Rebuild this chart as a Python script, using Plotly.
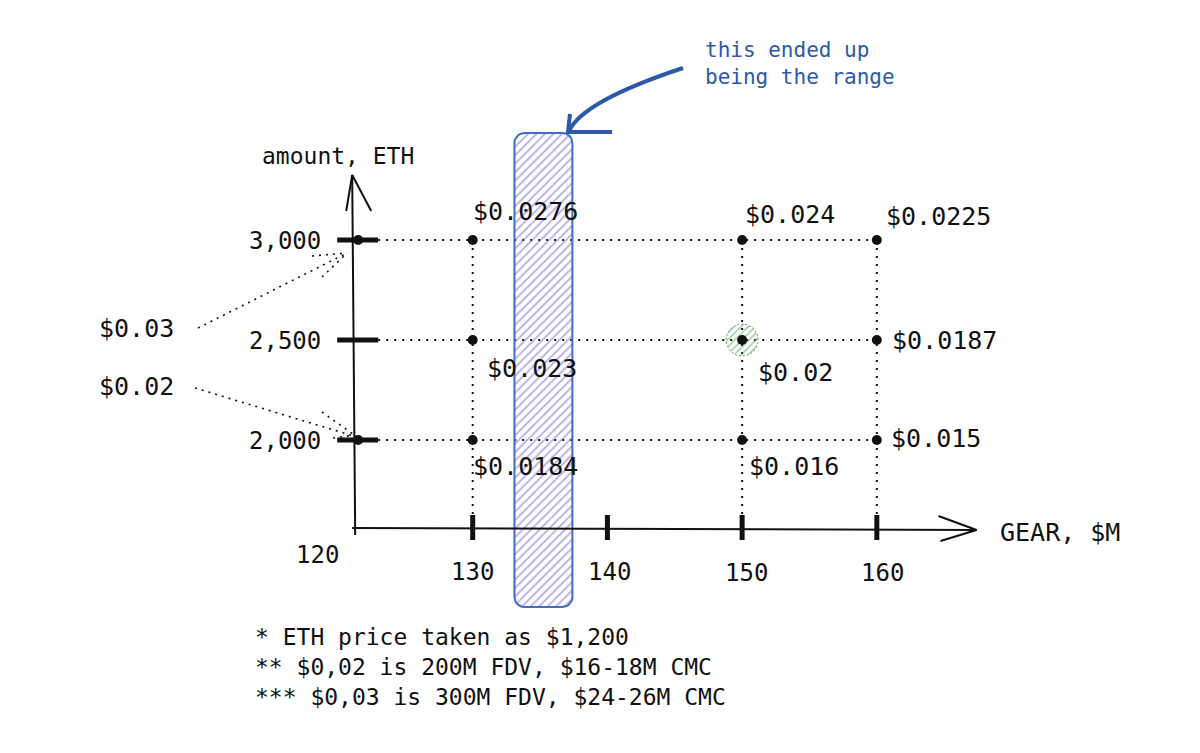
import numpy as np
import plotly.graph_objects as go

# ---------------- data ----------------
GEAR = [130, 150, 160]                 # GEAR, $M
ETH = [3000, 2500, 2000]               # amount, ETH
PRICES = [[0.0276, 0.024, 0.0225],     # rows follow ETH, columns follow GEAR
          [0.023, 0.02, 0.0187],
          [0.0184, 0.016, 0.015]]
X_TICKS = [120, 130, 140, 150, 160]
Y_TICKS = [3000, 2500, 2000]
Y_TICK_LABELS = ["3,000", "2,500", "2,000"]
RANGE_GEAR = [133.1, 137.4]            # the range it ended up being
HIGHLIGHT = (150, 2500)
LEFT_NOTES = ["$0.03", "$0.02"]
FOOTNOTES = ["* ETH price taken as $1,200",
             "** $0,02 is 200M FDV, $16-18M CMC",
             "*** $0,03 is 300M FDV, $24-26M CMC"]
CALLOUT = "this ended up<br>being the range"

# ---------------- geometry / style ----------------
W, H = 1200, 753
XR = [94.91, 183.99]
YR = [435, 4200]
SX = (XR[1] - XR[0]) / W      # data units per pixel (x)
SY = (YR[1] - YR[0]) / H      # data units per pixel (y)
AXIS_X = 121.5                # where the vertical axis is drawn
AXIS_Y = 1560                 # where the horizontal axis is drawn
Y_TOP = 3325
X_RIGHT = 167.4
FONT = "DejaVu Sans Mono"
BLACK = "#111111"
BLUE = "#2c5aa6"

def px(xp, yp):
    """paper coords from pixel coords (decorations only)"""
    return xp / W, 1 - yp / H

def txt(x, y, text, size, ref="paper", color=BLACK, **kw):
    d = dict(x=x, y=y, xref="paper" if ref == "paper" else "x",
             yref="paper" if ref == "paper" else "y", text=text,
             showarrow=False, xanchor="center", yanchor="middle",
             font=dict(family=FONT, size=size, color=color))
    d.update(kw)
    return d

fig = go.Figure()
shapes = []
annos = []

# dotted guide lines
dot = dict(color=BLACK, width=2, dash="2px,6px")
for yv in ETH:
    fig.add_trace(go.Scatter(x=[AXIS_X + 20 * SX, GEAR[-1]], y=[yv, yv], mode="lines",
                             line=dot, hoverinfo="skip"))
for xv in GEAR:
    fig.add_trace(go.Scatter(x=[xv, xv], y=[ETH[0], AXIS_Y + 12 * SY], mode="lines",
                             line=dot, hoverinfo="skip"))

# range rectangle (rounded, hatched)
x0, x1 = RANGE_GEAR
y0, y1 = 1165, 3535
r = 10
cx = [x1 - r * SX, x0 + r * SX, x0 + r * SX, x1 - r * SX]
cy = [y1 - r * SY, y1 - r * SY, y0 + r * SY, y0 + r * SY]
starts = [0, 90, 180, 270]
rx, ry = [], []
for c in range(4):
    t = np.radians(np.linspace(starts[c], starts[c] + 90, 8))
    rx += list(cx[c] + r * SX * np.cos(t))
    ry += list(cy[c] + r * SY * np.sin(t))
rx.append(rx[0]); ry.append(ry[0])
fig.add_trace(go.Scatter(x=rx, y=ry, mode="lines", fill="toself",
                         fillcolor="rgba(0,0,0,0)",
                         fillpattern=dict(shape="/", fgcolor="#6556d4", size=6, solidity=0.3),
                         line=dict(color="#3f6dc4", width=2), hoverinfo="skip"))

# green highlight circle
t = np.linspace(0, 2 * np.pi, 40)
fig.add_trace(go.Scatter(x=HIGHLIGHT[0] + 16 * SX * np.cos(t), y=HIGHLIGHT[1] + 16 * SY * np.sin(t),
                         mode="lines", fill="toself", fillcolor="rgba(0,0,0,0)",
                         fillpattern=dict(shape="/", fgcolor="#3e9e3e", size=5, solidity=0.3),
                         line=dict(color="#4caf50", width=1, dash="2px,2px"), hoverinfo="skip"))

# axes
fig.add_trace(go.Scatter(x=[AXIS_X - 3 * SX, AXIS_X - 6 * SX], y=[AXIS_Y - 7 * SY, Y_TOP], mode="lines",
                         line=dict(color=BLACK, width=2), hoverinfo="skip"))
fig.add_trace(go.Scatter(x=[AXIS_X - 6 * SX, X_RIGHT], y=[AXIS_Y, AXIS_Y - 2 * SY], mode="lines",
                         line=dict(color=BLACK, width=2), hoverinfo="skip"))
# arrow heads
fig.add_trace(go.Scatter(x=[AXIS_X - 12 * SX, AXIS_X - 6 * SX, AXIS_X + 13 * SX],
                         y=[Y_TOP - 36 * SY, Y_TOP, Y_TOP - 36 * SY], mode="lines",
                         line=dict(color=BLACK, width=2), hoverinfo="skip"))
fig.add_trace(go.Scatter(x=[X_RIGHT - 38 * SX, X_RIGHT, X_RIGHT - 36 * SX],
                         y=[AXIS_Y + 12 * SY, AXIS_Y - 2 * SY, AXIS_Y - 13 * SY], mode="lines",
                         line=dict(color=BLACK, width=2), hoverinfo="skip"))

# y ticks
for yv in Y_TICKS:
    fig.add_trace(go.Scatter(x=[AXIS_X - 21 * SX, AXIS_X + 20 * SX], y=[yv, yv], mode="lines",
                             line=dict(color=BLACK, width=5), hoverinfo="skip"))
# x ticks (skip the origin)
for xv in X_TICKS[1:]:
    fig.add_trace(go.Scatter(x=[xv, xv], y=[AXIS_Y + 13 * SY, AXIS_Y - 12 * SY], mode="lines",
                             line=dict(color=BLACK, width=5), hoverinfo="skip"))

# axis dots at 3000 and 2000
fig.add_trace(go.Scatter(x=[AXIS_X, AXIS_X], y=[ETH[0], ETH[-1]], mode="markers",
                         marker=dict(color=BLACK, size=10), hoverinfo="skip"))

# grid points
gx = [g for _ in ETH for g in GEAR]
gy = [e for e in ETH for _ in GEAR]
fig.add_trace(go.Scatter(x=gx, y=gy, mode="markers", marker=dict(color=BLACK, size=10),
                         hoverinfo="skip"))

# price labels
OFFS = [[(53, -29), (48, -26), (62, -24)],
        [(59, 28), (53, 32), (68, 0)],
        [(53, 26), (52, 26), (59, -2)]]
for i, e in enumerate(ETH):
    for j, g in enumerate(GEAR):
        annos.append(txt(g, e, "$" + str(PRICES[i][j]), 25, ref="data",
                         xshift=OFFS[i][j][0], yshift=-OFFS[i][j][1]))

# tick labels
for lab, yv in zip(Y_TICK_LABELS, Y_TICKS):
    annos.append(txt(AXIS_X, yv, lab, 24, ref="data", xshift=-73, yshift=-1))
XT_SHIFT = [-20, 0, 2, 4, 6]
XT_Y = [555, 572, 572, 573, 573]
for xv, sh, yp in zip(X_TICKS, XT_SHIFT, XT_Y):
    annos.append(txt(xv, YR[1] - yp * SY, str(xv), 24, ref="data", xshift=sh))

# axis titles
annos.append(txt(*px(338, 156), "amount, ETH", 23))
annos.append(txt(*px(1060, 532), "GEAR, $M", 25))

# left notes with converging dotted lines
for lab, (lx, ly) in zip(LEFT_NOTES, [(136, 328), (136, 386)]):
    annos.append(txt(*px(lx, ly), lab, 25))
LEFT_LINES = [((198, 328), (347, 253)), ((312, 256), (347, 253)), ((322, 277), (345, 255)),
              ((195, 388), (357, 437)), ((322, 412), (357, 437)), ((333, 438), (355, 435))]
for (p0, p1) in LEFT_LINES:
    a0, b0 = px(*p0)
    a1, b1 = px(*p1)
    shapes.append(dict(type="line", xref="paper", yref="paper", x0=a0, y0=b0, x1=a1, y1=b1,
                       line=dict(color=BLACK, width=1.6, dash="2px,5px")))

# callout arrow
p0 = px(683, 68); c = px(583, 101); p2 = px(569, 131)
shapes.append(dict(type="path", xref="paper", yref="paper",
                   path=f"M {p0[0]},{p0[1]} Q {c[0]},{c[1]} {p2[0]},{p2[1]}",
                   line=dict(color=BLUE, width=4)))
h0 = px(570, 114); h1 = px(568, 132); h2 = px(612, 132)
shapes.append(dict(type="path", xref="paper", yref="paper",
                   path=f"M {h0[0]},{h0[1]} L {h1[0]},{h1[1]} L {h2[0]},{h2[1]}",
                   line=dict(color=BLUE, width=4)))
annos.append(txt(*px(703, 63), CALLOUT, 21, color=BLUE, xanchor="left", align="left"))

# footnotes
for k, line in enumerate(FOOTNOTES):
    annos.append(txt(*px(253, 637 + 30 * k), line, 23, xanchor="left"))

fig.update_layout(width=W, height=H, margin=dict(l=0, r=0, t=0, b=0),
                  paper_bgcolor="white", plot_bgcolor="white", showlegend=False,
                  xaxis=dict(range=XR, visible=False, fixedrange=True),
                  yaxis=dict(range=YR, visible=False, fixedrange=True),
                  shapes=shapes, annotations=annos)
fig.write_html("out.html", config={"displayModeBar": False},
               post_script="document.body.style.margin='0';")
